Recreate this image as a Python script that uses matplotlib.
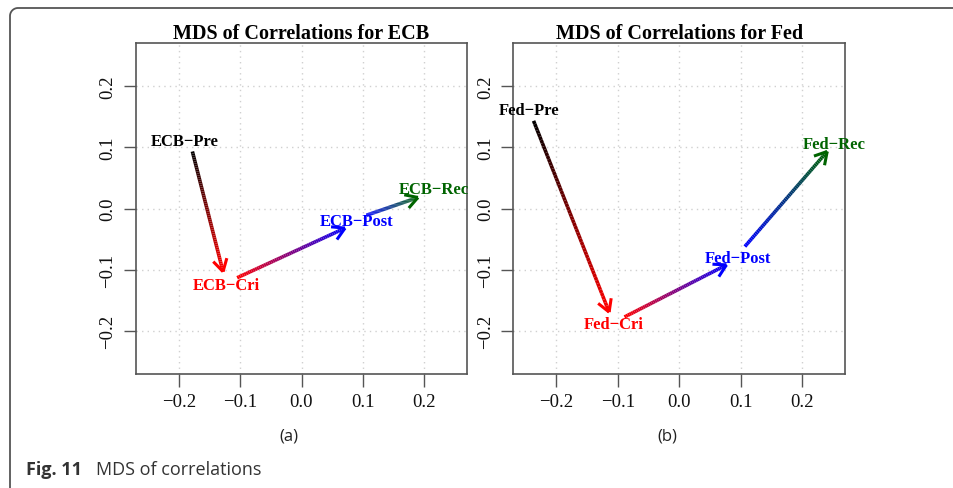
import numpy as np
import matplotlib
matplotlib.use("Agg")
import matplotlib.pyplot as plt
from matplotlib.collections import LineCollection
from matplotlib.lines import Line2D
from matplotlib.colors import to_rgb

# ---- data ----------------------------------------------------------------
ticks = [-0.2, -0.1, 0.0, 0.1, 0.2]
tick_labels = ["\u22120.2", "\u22120.1", "0.0", "0.1", "0.2"]

periods = ["Pre", "Cri", "Post", "Rec"]
period_colors = ["#000000", "#ff0000", "#0000ff", "#006400"]

# ECB: arrow segments (start x, start y, end x, end y) and label centres
ecb_arrows = [(-0.178, 0.093, -0.128, -0.103),
              (-0.105, -0.113, 0.071, -0.032),
              (0.106, -0.011, 0.190, 0.018)]
ecb_label_x = [-0.190, -0.123, 0.090, 0.216]
ecb_label_y = [0.110, -0.124, -0.020, 0.031]

# Fed
fed_arrows = [(-0.237, 0.143, -0.114, -0.169),
              (-0.089, -0.177, 0.077, -0.092),
              (0.107, -0.062, 0.241, 0.093)]
fed_label_x = [-0.244, -0.107, 0.096, 0.253]
fed_label_y = [0.161, -0.188, -0.080, 0.105]

W, H = 954, 489
fig = plt.figure(figsize=(W / 100, H / 100), dpi=100)
fig.patch.set_facecolor("white")

SERIF = ["Liberation Serif", "DejaVu Serif"]


def grad_arrow(ax, x0, y0, x1, y1, c0, c1, n=60, lw=2.6, head=14):
    c0 = np.array(to_rgb(c0)); c1 = np.array(to_rgb(c1))
    t = np.linspace(0, 1, n + 1)
    xs = x0 + (x1 - x0) * t
    ys = y0 + (y1 - y0) * t
    pts = np.column_stack([xs, ys])
    segs = np.stack([pts[:-1], pts[1:]], axis=1)
    tm = (t[:-1] + t[1:]) / 2
    cols = [c0 * (1 - v) + c1 * v for v in tm]
    lc = LineCollection(segs, colors=cols, linewidths=lw, capstyle="butt", zorder=3)
    ax.add_collection(lc)
    # open arrowhead, built in pixel space
    p0 = ax.transData.transform((x0, y0))
    p1 = ax.transData.transform((x1, y1))
    d = p1 - p0
    ang = np.arctan2(d[1], d[0])
    inv = ax.transData.inverted()
    for s in (1, -1):
        a = ang + np.pi + s * np.pi / 6
        q = p1 + head * np.array([np.cos(a), np.sin(a)])
        qd = inv.transform(q)
        ax.plot([x1, qd[0]], [y1, qd[1]], color=c1, lw=2.2,
                solid_capstyle="butt", zorder=3)


def panel(rect, title, prefix, arrows, lx, ly):
    ax = fig.add_axes(rect)
    ax.set_xlim(-0.27, 0.27)
    ax.set_ylim(-0.27, 0.27)
    ax.set_xticks(ticks)
    ax.set_yticks(ticks)
    ax.set_xticklabels(tick_labels, family=SERIF, fontsize=13.5)
    ax.set_yticklabels(tick_labels, family=SERIF, fontsize=13.5,
                       rotation=90, va="center")
    ax.tick_params(direction="out", length=9, width=1, color="#555555",
                   pad=5, labelcolor="#111111")
    ax.grid(True, color="#d0d0d0", ls=(0, (1, 3)), lw=1)
    ax.set_axisbelow(True)
    for sp in ax.spines.values():
        sp.set_color("#555555")
        sp.set_linewidth(1.2)
    ax.set_title(title, family=SERIF, fontweight="bold", fontsize=14.5, pad=2)
    for i, (x0, y0, x1, y1) in enumerate(arrows):
        grad_arrow(ax, x0, y0, x1, y1, period_colors[i], period_colors[i + 1])
    for i, p in enumerate(periods):
        ax.text(lx[i], ly[i], prefix + "\u2212" + p, color=period_colors[i],
                family=SERIF, fontweight="bold", fontsize=12,
                ha="center", va="center", zorder=4)
    return ax


panel([136 / W, 1 - 375 / H, 331 / W, 331 / H],
      "MDS of Correlations for ECB", "ECB", ecb_arrows, ecb_label_x, ecb_label_y)
panel([513.3 / W, 1 - 375 / H, 331.7 / W, 331 / H],
      "MDS of Correlations for Fed", "Fed", fed_arrows, fed_label_x, fed_label_y)

# sub captions and figure caption
SANS = ["Open Sans", "DejaVu Sans"]
fig.text(289 / W, 1 - 437 / H, "(a)", family=SANS, fontsize=12,
         ha="center", va="center", color="#222222")
fig.text(667 / W, 1 - 437 / H, "(b)", family=SANS, fontsize=12,
         ha="center", va="center", color="#222222")
fig.text(26 / W, 1 - 470 / H, "Fig. 11", family=SANS, fontweight="bold",
         fontsize=13, ha="left", va="center", color="#333333")
fig.text(96 / W, 1 - 470 / H, "MDS of correlations", family=SANS,
         fontsize=13, ha="left", va="center", color="#333333")

# page frame: left and top edges with a rounded corner
r = 8
arc = np.linspace(np.pi, np.pi / 2, 20)
fx = np.concatenate([[10], 10 + r + r * np.cos(arc), [W]])
fy = np.concatenate([[H], 9 + r - r * np.sin(arc), [9]])
fig.add_artist(Line2D(fx / W, 1 - fy / H, color="#555555", lw=1.3,
                      transform=fig.transFigure))

fig.savefig("out.png", dpi=100)
